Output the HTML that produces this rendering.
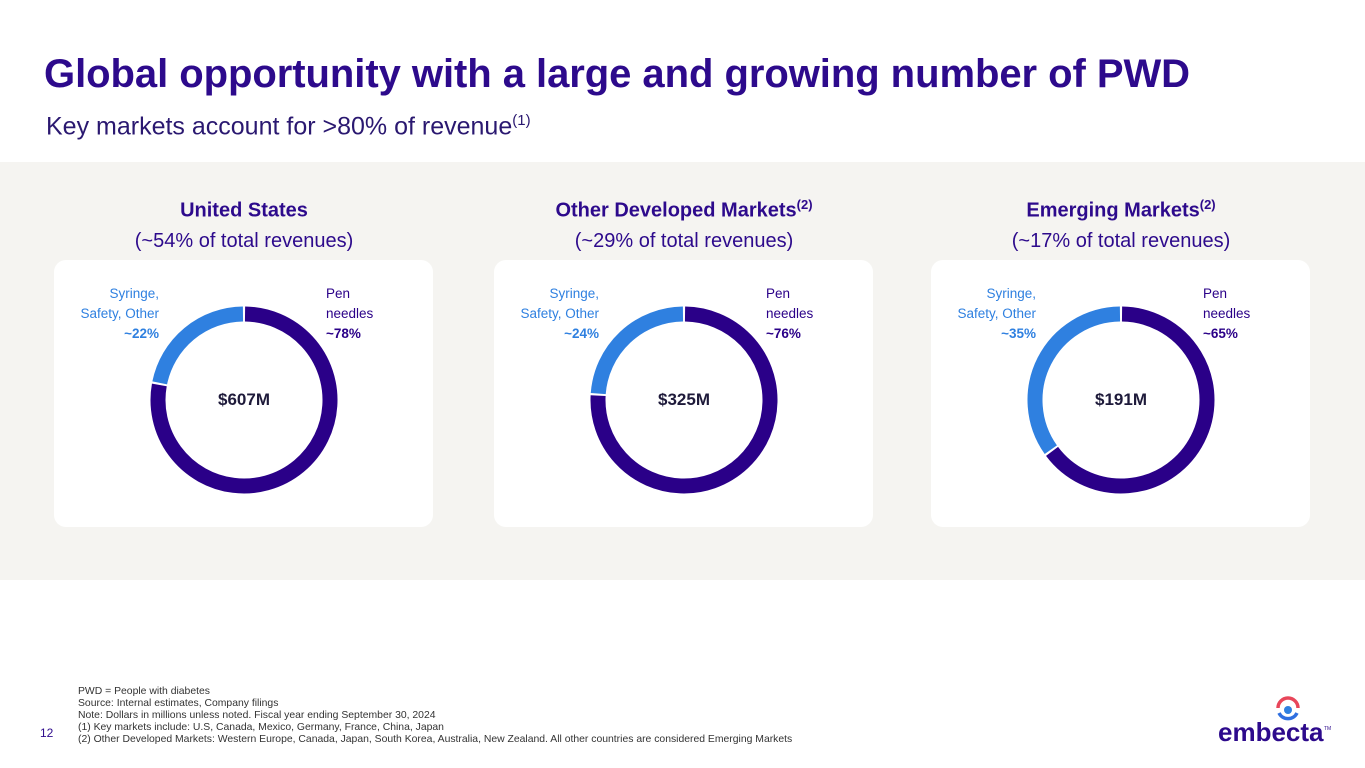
<!DOCTYPE html>
<html><head><meta charset="utf-8"><style>
body{margin:0;width:1365px;height:768px;background:#fff;font-family:"Liberation Sans",sans-serif;position:relative;overflow:hidden}
.abs{position:absolute}
h1{position:absolute;left:44px;top:52px;margin:0;font-size:40px;font-weight:bold;color:#2d0a8c;letter-spacing:-0.05px}
.sub{left:46px;top:112px;font-size:25px;color:#2a1870}
.band{left:0;top:162px;width:1365px;height:418px;background:#f5f4f1}
.card{background:#fff;border-radius:12px;top:260px;height:267px;width:379px}
.hd{top:190px;width:440px;text-align:center;color:#2d0a8c;font-size:20px;line-height:30px}
.hd b{display:block}
.lbl{font-size:13.5px;line-height:20px}
.foot{left:78px;top:686px;font-size:10.4px;line-height:12px;color:#333}
</style></head><body>
<h1>Global opportunity with a large and growing number of PWD</h1>
<div class="abs sub">Key markets account for &gt;80% of revenue<sup style="font-size:15px">(1)</sup></div>
<div class="abs band"></div>
<div id="charts"></div>
<div class="abs foot">PWD = People with diabetes<br>Source: Internal estimates, Company filings<br>Note: Dollars in millions unless noted. Fiscal year ending September 30, 2024<br>(1) Key markets include: U.S, Canada, Mexico, Germany, France, China, Japan<br>(2) Other Developed Markets: Western Europe, Canada, Japan, South Korea, Australia, New Zealand. All other countries are considered Emerging Markets</div>
<div class="abs" style="left:40px;top:726px;font-size:12px;color:#2d0a8c">12</div>
<div class="abs" style="left:1218px;top:696px;width:115px;height:50px">
<svg width="115" height="50"><path d="M60 12 A10 10 0 0 1 80 12" stroke="#e8465a" stroke-width="3.5" fill="none"/><path d="M61 17 A10 10 0 0 0 79 17" stroke="#2f6fe0" stroke-width="3.5" fill="none"/><circle cx="70" cy="14" r="4" fill="#2f80e0"/>
<text x="0" y="45" font-family="Liberation Sans" font-weight="bold" font-size="26" fill="#2d0a8c">embecta</text><text x="106" y="34" font-size="5" fill="#2d0a8c">TM</text></svg></div>
<script>
const regions=["United States","Other Developed Markets","Emerging Markets"];
const shares=["~54%","~29%","~17%"];
const totals=["$607M","$325M","$191M"];
const penPct=[78,76,65];
const sup=["","(2)","(2)"];
const cardX=[54,494,931];
const root=document.getElementById('charts');
const NS="http://www.w3.org/2000/svg";
function arc(cx,cy,r,a0,a1){const p=a=>[cx+r*Math.sin(a),cy-r*Math.cos(a)];const [x0,y0]=p(a0),[x1,y1]=p(a1);return `M${x0} ${y0} A${r} ${r} 0 ${a1-a0>Math.PI?1:0} 1 ${x1} ${y1}`;}
regions.forEach((name,i)=>{
 const x=cardX[i], cx=x+190;
 const hd=document.createElement('div');hd.className='abs hd';hd.style.left=(cx-220)+'px';
 
 
 hd.innerHTML=`<b>${name}<sup style="font-size:13px">${sup[i]}</sup></b>(${shares[i]} of total revenues)`;root.appendChild(hd);
 const c=document.createElement('div');c.className='abs card';c.style.left=x+'px';
 
 
 root.appendChild(c);
 const svg=document.createElementNS(NS,'svg');svg.setAttribute('width',379);svg.setAttribute('height',267);svg.style.position='absolute';svg.style.left='0';svg.style.top='0';
 c.appendChild(svg);
 const ccx=190,ccy=140,r=86;const split=penPct[i]/100*2*Math.PI;const g=0.012;
 const s1=document.createElementNS(NS,'path');s1.setAttribute('d',arc(ccx,ccy,r,g,split-g));s1.setAttribute('stroke','#2a0088');s1.setAttribute('stroke-width',15);s1.setAttribute('fill','none');
 
 
 svg.appendChild(s1);
 const s2=document.createElementNS(NS,'path');s2.setAttribute('d',arc(ccx,ccy,r,split+g,2*Math.PI-g));s2.setAttribute('stroke','#2f80e0');s2.setAttribute('stroke-width',15);s2.setAttribute('fill','none');
 
 
 svg.appendChild(s2);
 const t=document.createElement('div');t.className='abs';t.style.cssText='left:140px;width:100px;top:130px;text-align:center;font-weight:bold;font-size:17px;color:#1e1a3a';t.textContent=totals[i];
 
 
 c.appendChild(t);
 const l1=document.createElement('div');l1.className='abs lbl';l1.style.cssText='left:0;width:105px;top:24px;text-align:right;color:#2f80e0';l1.innerHTML=`Syringe,<br>Safety, Other<br><b>~${100-penPct[i]}%</b>`;
 
 
 c.appendChild(l1);
 const l2=document.createElement('div');l2.className='abs lbl';l2.style.cssText='left:272px;top:24px;color:#2a0088';l2.innerHTML=`Pen<br>needles<br><b>~${penPct[i]}%</b>`;
 
 
 c.appendChild(l2);
});
</script>
</body></html>
